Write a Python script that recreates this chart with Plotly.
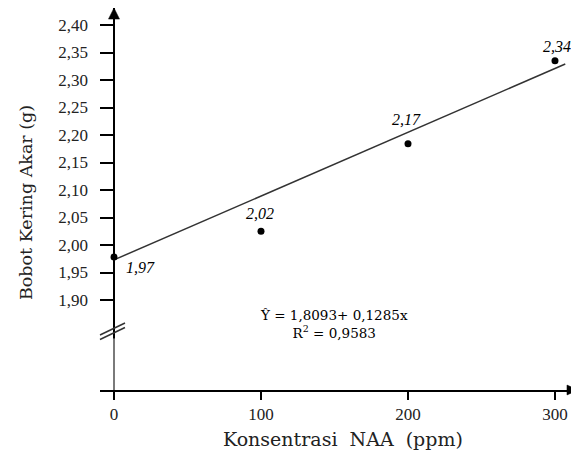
import plotly.graph_objects as go

# ---- data ----
naa_ppm = [0, 100, 200, 300]
bobot_kering = [1.978, 2.025, 2.184, 2.335]
point_labels = ["1,97", "2,02", "2,17", "2,34"]
trend_x = [0, 307]
trend_y = [1.973, 2.329]
y_ticks = [1.90, 1.95, 2.00, 2.05, 2.10, 2.15, 2.20, 2.25, 2.30, 2.35, 2.40]
x_ticks = [0, 100, 200, 300]
equation = "Ŷ = 1,8093+ 0,1285x<br>R<sup>2</sup> = 0,9583"
x_title = "Konsentrasi\u00a0 NAA\u00a0 (ppm)"
y_title = "Bobot Kering Akar (g)"

label_offsets = [(26, -10), (-1, 18), (-2, 24), (2, 14)]

SERIF = "Liberation Serif, Times New Roman, serif"
WIDE = "DejaVu Serif, serif"

fig = go.Figure()
fig.add_trace(go.Scatter(x=trend_x, y=trend_y, mode="lines",
                         line=dict(color="#333333", width=1.5),
                         hoverinfo="skip", showlegend=False))
fig.add_trace(go.Scatter(x=naa_ppm, y=bobot_kering, mode="markers",
                         marker=dict(color="black", size=7),
                         cliponaxis=False, showlegend=False))

for xv, yv, t, (dx, dy) in zip(naa_ppm, bobot_kering, point_labels, label_offsets):
    fig.add_annotation(x=xv, y=yv, text="<i>" + t + "</i>", showarrow=False,
                       xanchor="center", yanchor="middle", xshift=dx, yshift=dy,
                       font=dict(family=SERIF, size=16, color="black"))

fig.add_annotation(x=149.7, y=1.857, text=equation, showarrow=False,
                   xanchor="center", yanchor="middle", align="center",
                   font=dict(family=WIDE, size=13.5, color="black"))

fig.add_annotation(xref="paper", yref="paper", x=-0.1551, y=0.4895, text=y_title,
                   textangle=-90, showarrow=False, xanchor="center", yanchor="middle",
                   font=dict(family=WIDE, size=17.5, color="#222"))
fig.add_annotation(xref="paper", yref="paper", x=0.5094, y=-0.1283, text=x_title,
                   showarrow=False, xanchor="center", yanchor="middle",
                   font=dict(family=WIDE, size=19, color="#222"))

# axis arrows and break marks
fig.add_shape(type="path", xref="paper", yref="paper",
              path="M 0.0178 0.971 L 0.0409 0.971 L 0.02935 1.0 Z",
              fillcolor="black", line=dict(color="black", width=0.5))
fig.add_shape(type="path", xref="paper", yref="paper",
              path="M 0.979 -0.013 L 0.979 0.013 L 1.002 0 Z",
              fillcolor="black", line=dict(color="black", width=0.5))
fig.add_shape(type="line", xref="paper", yref="paper",
              x0=0.02935, x1=0.02935, y0=0.0, y1=0.135,
              line=dict(color="#7a7a7a", width=2))
fig.add_shape(type="line", xref="paper", yref="paper",
              x0=0.0, y0=0.1440, x1=0.0524, y1=0.1754,
              line=dict(color="#333", width=1.5))
fig.add_shape(type="line", xref="paper", yref="paper",
              x0=0.0, y0=0.1322, x1=0.0524, y1=0.1636,
              line=dict(color="#333", width=1.5))

fig.update_xaxes(range=[-9.524, 314.97], tickvals=x_ticks, ticks="outside",
                 ticklen=8, tickwidth=1.5, tickcolor="black",
                 showline=True, linecolor="black", linewidth=2,
                 showgrid=False, zeroline=True, zerolinecolor="black", zerolinewidth=2,
                 tickfont=dict(family=SERIF, size=17, color="#222"))
fig.update_yaxes(range=[1.7364, 2.4309], tickvals=y_ticks, tickformat=".2f",
                 ticks="inside", ticklen=14, tickwidth=1.5, tickcolor="black",
                 showline=False, showgrid=False, zeroline=False,
                 ticklabelstandoff=11,
                 tickfont=dict(family=SERIF, size=17, color="#222"))

# page body has an 8px default margin, so the figure is 8px smaller
fig.update_layout(width=571, height=445, separators=",.",
                  margin=dict(l=92, r=2, t=0, b=63),
                  paper_bgcolor="white", plot_bgcolor="white")

fig.write_html("out.html")
